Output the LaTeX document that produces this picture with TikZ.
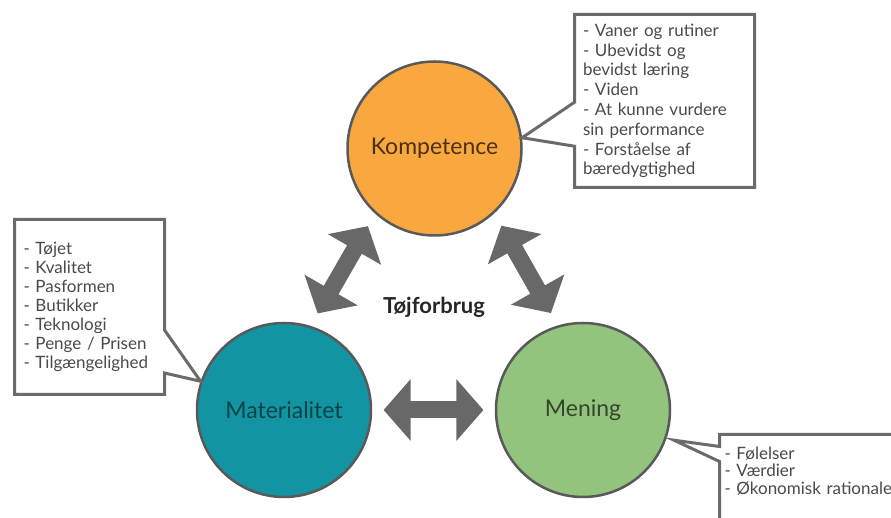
\documentclass[tikz,border=0pt]{standalone}
\usepackage{fontspec}
\setmainfont{Lato}
\usetikzlibrary{arrows.meta,calc,shapes.callouts}
\definecolor{cKomp}{HTML}{F9A83F}
\definecolor{cMat} {HTML}{1394A3}
\definecolor{cMen} {HTML}{93C47D}
\definecolor{cEdge}{HTML}{595959}
\definecolor{cArr} {HTML}{686868}
\definecolor{cBox} {HTML}{6B6B6B}
\definecolor{cTxt} {HTML}{4A4A4A}
\tikzset{
  circ/.style    ={circle,draw=cEdge,line width=2.5pt,minimum size=174pt,
                   inner sep=0pt,font=\fontsize{23}{27}\selectfont},
  note/.style    ={rectangle callout,draw=cBox,fill=white,line width=3pt,
                   align=left,anchor=north west,text=cTxt,
                   font=\fontsize{17}{19.8}\selectfont},
  dblarrow/.style={draw=cArr,line width=17pt,
                   {Triangle[length=27pt,width=60pt]}-{Triangle[length=27pt,width=60pt]}},
}

\begin{document}
\begin{tikzpicture}[x=1pt,y=1pt]
\useasboundingbox (0,0) rectangle (891,518);
\clip (0,0) rectangle (891,518);

% ---- the three circles ---------------------------------------------------
\node[circ,fill=cKomp,text=cKomp!30!black] (kom) at (434.5,369.5) {Kompetence};
\node[circ,fill=cMat, text=cMat!45!black]  (mat) at (284,108)     {Materialitet};
\node[circ,fill=cMen, text=cMen!35!black]  (men) at (583,108)     {Mening};

\node[font=\fontsize{22}{26}\selectfont\bfseries,text=black!85] (title)
  at (434,211) {Tøjforbrug};

% ---- arrows between the circles, pushed a little away from the middle -----
\draw[dblarrow] ($(mat)!0.333!(kom)!19pt!90:(kom)$) -- ($(mat)!0.667!(kom)!19pt!90:(kom)$);
\draw[dblarrow] ($(kom)!0.333!(men)!20pt!90:(men)$) -- ($(kom)!0.667!(men)!20pt!90:(men)$);
\draw[dblarrow] ($(mat)!0.333!(men)$) -- ($(mat)!0.667!(men)$);

% ---- callouts ------------------------------------------------------------
\node[note,text width=163pt,inner xsep=8.5pt,minimum width=180pt,minimum height=173pt,
      callout absolute pointer={(kom.7)},callout pointer width=44pt] (kbox) at (573,505)
  {- Vaner og rutiner\\
   - Ubevidst og\\
   bevidst læring\\
   - Viden\\
   - At kunne vurdere\\
   sin performance\\
   - Forståelse af\\
   bæredygtighed};

\node[note,text width=132pt,inner xsep=9pt,minimum width=150pt,minimum height=175pt,
      font=\fontsize{17}{19}\selectfont,
      callout absolute pointer={(mat.161)},callout pointer width=43pt] (mbox) at (13,300)
  {- Tøjet\\
   - Kvalitet\\
   - Pasformen\\
   - Butikker\\
   - Teknologi\\
   - Penge / Prisen\\
   - Tilgængelighed};

% this one runs off the page on the right and at the bottom
\node[note,text width=180pt,inner xsep=5pt,inner ysep=12pt,text depth=60pt,
      font=\fontsize{17}{17.5}\selectfont,
      callout absolute pointer={([xshift=8pt]men.-20)},callout pointer width=15pt] (nbox) at (718,85)
  {- Følelser\\
   - Værdier\\
   - Økonomisk rationale};
\end{tikzpicture}
\end{document}
